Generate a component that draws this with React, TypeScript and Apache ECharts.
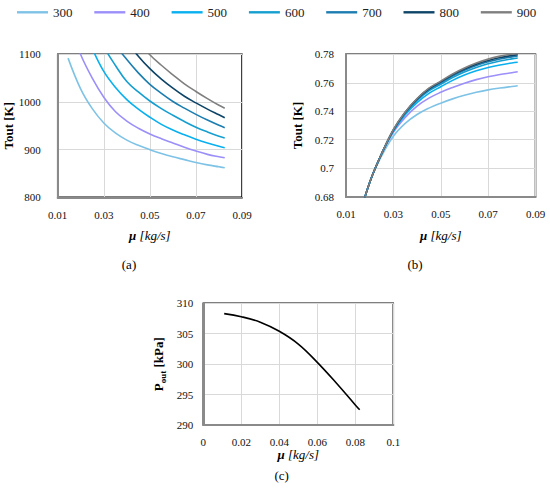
import React, { useEffect, useRef } from "react";
import * as echarts from "echarts";

const FONT = "Liberation Serif";

// mass flow grid (kg/s) shared by charts (a) and (b)
const MU = [0.0145, 0.02, 0.025, 0.03, 0.035, 0.04, 0.045, 0.05, 0.055, 0.06, 0.065, 0.07, 0.075, 0.08, 0.0825];

const NAMES = ["300", "400", "500", "600", "700", "800", "900"];
const COLORS = ["#7ec3e6", "#9b8ffa", "#08b0ef", "#159fd0", "#1c7db0", "#0d4467", "#7f7f7f"];

// chart (a): Tout [K]
const A300 = [1092, 1027, 986, 956, 935, 920, 909, 900, 892, 885, 879, 873, 868, 864, 862];
const A400 = [1170, 1099, 1050, 1010, 980, 960, 945, 933, 923, 914, 905, 897, 890, 885, 883];
const A500 = [null, 1170, 1112, 1064, 1031, 1005, 985, 968, 953, 941, 931, 922, 914, 907, 904];
const A600 = [null, null, 1165, 1116, 1077, 1043, 1021, 1002, 986, 972, 959, 947, 937, 928, 924.5];
const A700 = [null, null, null, 1160, 1120, 1089, 1061, 1037, 1018, 1001, 987, 974, 962, 951, 946];
const A800 = [null, null, null, null, 1165, 1128, 1096, 1070, 1048, 1029, 1012, 998, 985, 973, 967];
const A900 = [null, null, null, null, null, 1162, 1128, 1099, 1077, 1057, 1038, 1022, 1007, 993, 987];

// chart (b)
const B300 = [0.66, 0.69, 0.7085, 0.7225, 0.7315, 0.7377, 0.7422, 0.7457, 0.7487, 0.7512, 0.7533, 0.755, 0.7563, 0.7574, 0.7579];
const B400 = [0.66, 0.69, 0.71, 0.7252, 0.7357, 0.7436, 0.7492, 0.7533, 0.7567, 0.7597, 0.7622, 0.7642, 0.7658, 0.7671, 0.7678];
const B500 = [0.66, 0.69, 0.71, 0.726, 0.7375, 0.746, 0.7525, 0.7572, 0.7617, 0.7654, 0.7684, 0.7707, 0.7725, 0.7739, 0.7744];
const B600 = [0.66, 0.69, 0.71, 0.7265, 0.7385, 0.7475, 0.7543, 0.759, 0.7636, 0.7675, 0.7707, 0.7733, 0.7753, 0.7768, 0.7774];
const B700 = [0.66, 0.69, 0.71, 0.7268, 0.739, 0.7482, 0.7552, 0.76, 0.7648, 0.7688, 0.7721, 0.7747, 0.7767, 0.7782, 0.7788];
const B800 = [0.66, 0.69, 0.71, 0.727, 0.7393, 0.7487, 0.7558, 0.7607, 0.7656, 0.7697, 0.7731, 0.7757, 0.7777, 0.7792, 0.7798];
const B900 = [0.66, 0.69, 0.71, 0.7272, 0.7395, 0.749, 0.7562, 0.7612, 0.7662, 0.7704, 0.7739, 0.7766, 0.7787, 0.7801, 0.7805];

// chart (c)
const MU_C = [0.011, 0.02, 0.03, 0.04, 0.05, 0.06, 0.07, 0.08, 0.0823];
const P_OUT = [308.3, 307.8, 306.9, 305.4, 303.3, 300.3, 296.9, 293.3, 292.5];

const A_SETS = [A300, A400, A500, A600, A700, A800, A900];
const B_SETS = [B300, B400, B500, B600, B700, B800, B900];

const pairs = (xs: number[], ys: (number | null)[]) =>
  xs.map((x, i) => [x, ys[i]]).filter((p) => p[1] !== null);

const labelStyle = (margin: number) => ({
  fontFamily: FONT,
  fontSize: 11,
  color: "#111",
  margin,
  formatter: (v: number) => String(v),
});

const xName = {
  name: "{m|μ} {i|[kg/s]}",
  nameLocation: "middle",
  nameTextStyle: {
    fontFamily: FONT,
    fontSize: 13,
    color: "#000",
    rich: {
      m: { fontFamily: FONT, fontSize: 13, fontWeight: "bold", fontStyle: "italic", color: "#000" },
      i: { fontFamily: FONT, fontSize: 13, fontStyle: "italic", color: "#000" },
    },
  },
};

const common = {
  axisTick: { show: false },
  axisLine: { show: true, lineStyle: { color: "#8a8a8a", width: 2 } },
  splitLine: { show: true, lineStyle: { color: "#d9d9d9", width: 1 } },
};

const caption = (text: string, x: number, y: number) => ({
  type: "text",
  x,
  y,
  style: { text, fill: "#000", fontFamily: FONT, fontSize: 13, align: "center", verticalAlign: "middle" },
});

export default function App() {
  const ref = useRef<HTMLDivElement>(null);
  useEffect(() => {
    if (!ref.current) return;
    const chart = echarts.init(ref.current, null, { renderer: "svg" });
    const series: any[] = [];
    NAMES.forEach((n, k) => {
      series.push({
        type: "line",
        name: n,
        xAxisIndex: 0,
        yAxisIndex: 0,
        data: pairs(MU, A_SETS[k]),
        smooth: 0.4,
        symbol: "none",
        clip: true,
        color: COLORS[k],
        lineStyle: { width: 1.6, color: COLORS[k] },
      });
    });
    NAMES.forEach((n, k) => {
      series.push({
        type: "line",
        name: n,
        xAxisIndex: 1,
        yAxisIndex: 1,
        data: pairs(MU, B_SETS[k]),
        smooth: 0.4,
        symbol: "none",
        clip: true,
        color: COLORS[k],
        lineStyle: { width: 1.6, color: COLORS[k] },
      });
    });
    series.push({
      type: "line",
      name: "Pout",
      xAxisIndex: 2,
      yAxisIndex: 2,
      data: pairs(MU_C, P_OUT),
      smooth: 0.4,
      symbol: "none",
      color: "#000",
      lineStyle: { width: 1.6, color: "#000" },
    });

    const option: any = {
      animation: false,
      backgroundColor: "#fff",
      textStyle: { fontFamily: FONT },
      legend: NAMES.map((n, i) => ({
        data: [n],
        left: 17 + 77.3 * i,
        top: 5.8,
        padding: 0,
        icon: "rect",
        itemWidth: 31,
        itemHeight: 2.4,
        textStyle: { fontFamily: FONT, fontSize: 13, color: "#222" },
      })),
      grid: [
        { left: 57.7, top: 54.3, width: 184.3, height: 143, show: true, borderColor: "#000", borderWidth: 1.5, backgroundColor: "#fff" },
        { left: 346, top: 54.3, width: 189.5, height: 142.4, show: true, borderColor: "#000", borderWidth: 1.5, backgroundColor: "#fff" },
        { left: 203.3, top: 303.3, width: 190, height: 121.7, show: true, borderColor: "#000", borderWidth: 1.5, backgroundColor: "#fff" },
      ],
      xAxis: [
        { type: "value", gridIndex: 0, min: 0.01, max: 0.09, interval: 0.02, ...common, axisLabel: labelStyle(12), ...xName, nameGap: 32 },
        { type: "value", gridIndex: 1, min: 0.01, max: 0.09, interval: 0.02, ...common, axisLabel: labelStyle(12), ...xName, nameGap: 32 },
        { type: "value", gridIndex: 2, min: 0, max: 0.1, interval: 0.02, ...common, axisLabel: labelStyle(11), ...xName, nameGap: 22 },
      ],
      yAxis: [
        {
          type: "value", gridIndex: 0, min: 800, max: 1100, interval: 100, ...common, axisLabel: labelStyle(17),
          name: "Tout [K]", nameLocation: "middle", nameGap: 41,
          nameTextStyle: { fontFamily: FONT, fontSize: 13, fontWeight: "bold", color: "#000" },
        },
        {
          type: "value", gridIndex: 1, min: 0.68, max: 0.78, interval: 0.02, ...common, axisLabel: labelStyle(12),
          name: "Tout [K]", nameLocation: "middle", nameGap: 42,
          nameTextStyle: { fontFamily: FONT, fontSize: 13, fontWeight: "bold", color: "#000" },
        },
        {
          type: "value", gridIndex: 2, min: 290, max: 310, interval: 5, ...common, axisLabel: labelStyle(10),
          name: "{b|P}{s|out}{b| [kPa]}", nameLocation: "middle", nameGap: 36,
          nameTextStyle: {
            fontFamily: FONT, fontSize: 13, color: "#000",
            rich: {
              b: { fontFamily: FONT, fontSize: 13, fontWeight: "bold", color: "#000", lineHeight: 18 },
              s: { fontFamily: FONT, fontSize: 9, fontWeight: "bold", color: "#000", lineHeight: 9, verticalAlign: "bottom" },
            },
          },
        },
      ],
      graphic: [caption("(a)", 129, 264), caption("(b)", 415, 264), caption("(c)", 281.7, 475)],
      series,
    };
    chart.setOption(option);
    return () => chart.dispose();
  }, []);
  return (
    <div
      ref={ref}
      style={{ position: "absolute", left: 0, top: 0, width: 550, height: 491, background: "#fff" }}
    />
  );
}
